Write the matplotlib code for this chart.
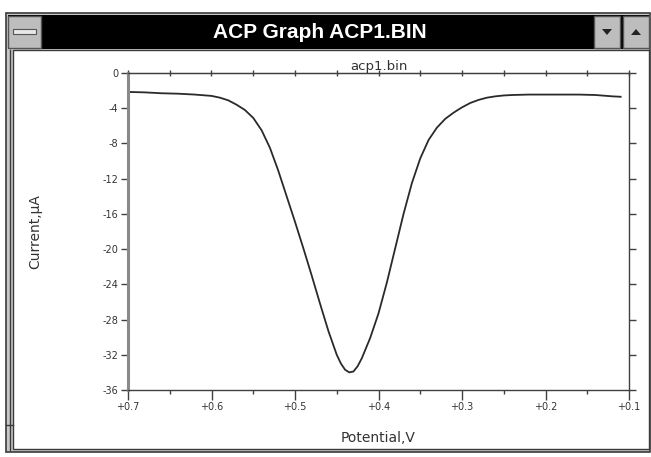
import matplotlib
matplotlib.use("Agg")
import matplotlib.pyplot as plt
from matplotlib.patches import Rectangle, Polygon
from matplotlib.ticker import MultipleLocator, NullFormatter

window_title = "ACP Graph ACP1.BIN"
plot_title = "acp1.bin"
x_label = "Potential,V"
y_label = "Current,\u00b5A"

potential = [0.70, 0.68, 0.66, 0.64, 0.62, 0.60, 0.59, 0.58, 0.57, 0.56,
             0.55, 0.54, 0.53, 0.52, 0.51, 0.50, 0.49, 0.48, 0.47, 0.46,
             0.45, 0.445, 0.44, 0.435, 0.43, 0.425, 0.42, 0.41, 0.40, 0.39,
             0.38, 0.37, 0.36, 0.35, 0.34, 0.33, 0.32, 0.31, 0.30, 0.29,
             0.28, 0.27, 0.26, 0.25, 0.24, 0.22, 0.20, 0.18, 0.16, 0.14,
             0.12, 0.11]
current = [-2.15, -2.2, -2.3, -2.35, -2.45, -2.6, -2.8, -3.1, -3.6, -4.2,
           -5.1, -6.5, -8.5, -11.1, -14.0, -16.9, -19.9, -23.0, -26.2, -29.3,
           -32.0, -33.0, -33.7, -34.0, -33.9, -33.3, -32.4, -30.1, -27.3, -23.8,
           -19.9, -16.0, -12.5, -9.7, -7.6, -6.2, -5.2, -4.5, -3.9, -3.4,
           -3.05, -2.8, -2.65, -2.55, -2.5, -2.45, -2.45, -2.45, -2.45, -2.5,
           -2.65, -2.7]

x_ticks = [0.7, 0.6, 0.5, 0.4, 0.3, 0.2, 0.1]
x_tick_labels = ["+0.7", "+0.6", "+0.5", "+0.4", "+0.3", "+0.2", "+0.1"]
y_ticks = [0, -4, -8, -12, -16, -20, -24, -28, -32, -36]

W, H = 651, 457
fig = plt.figure(figsize=(W / 100, H / 100), dpi=100)
fig.patch.set_facecolor("white")

# window chrome layer in pixel coordinates
bg = fig.add_axes([0, 0, 1, 1])
bg.set_xlim(0, W)
bg.set_ylim(H, 0)
bg.axis("off")

frame_col = "#3a3a3a"
bg.add_patch(Rectangle((6, 13), 644, 439, facecolor="#c8c8c8", edgecolor=frame_col, lw=1.2))
bg.add_patch(Rectangle((13, 50), 636, 399, facecolor="white", edgecolor=frame_col, lw=1.0))
bg.add_patch(Rectangle((8, 15), 641, 34, facecolor="black", edgecolor="black", lw=0))
bg.add_patch(Rectangle((8, 16), 33, 32, facecolor="#bdbdbd", edgecolor="#555555", lw=1))
bg.add_patch(Rectangle((13, 29), 23, 5, facecolor="#e8e8e8", edgecolor="#555555", lw=0.8))
bg.add_patch(Rectangle((594, 16), 26, 32, facecolor="#bdbdbd", edgecolor="#555555", lw=1))
bg.add_patch(Rectangle((623, 16), 26, 32, facecolor="#bdbdbd", edgecolor="#555555", lw=1))
bg.add_patch(Polygon([[602, 29], [612, 29], [607, 35]], closed=True, facecolor="#222222", edgecolor="none"))
bg.add_patch(Polygon([[631, 35], [641, 35], [636, 29]], closed=True, facecolor="#222222", edgecolor="none"))
bg.plot([9.5, 9.5], [50, 450], color=frame_col, lw=1.0)
bg.plot([6, 13], [425, 425], color=frame_col, lw=1.0)

bg.text(320, 32, window_title, color="white", fontsize=15, fontweight="bold",
        family="Liberation Sans", ha="center", va="center")

# chart axes
ax = fig.add_axes([128 / W, 1 - 390 / H, (629 - 128) / W, (390 - 73) / H])
ax.set_facecolor("white")
ax.plot(potential, current, color="#2a2a2a", lw=1.3)
ax.set_xlim(0.7, 0.1)
ax.set_ylim(-36, 0)

ax.set_xticks(x_ticks)
ax.set_xticklabels(x_tick_labels)
ax.xaxis.set_minor_locator(MultipleLocator(0.05))
ax.set_yticks(y_ticks)
ax.set_yticklabels([str(v) for v in y_ticks])

for side in ["top", "bottom", "right"]:
    ax.spines[side].set_color("#404040")
    ax.spines[side].set_linewidth(1.0)
ax.spines["left"].set_color("#8a8a8a")
ax.spines["left"].set_linewidth(2.2)

ax.tick_params(axis="x", which="major", direction="out", length=7, width=1,
               color="#404040", labelsize=7, labelcolor="#333333", pad=2,
               top=False)
ax.tick_params(axis="x", which="minor", direction="out", length=3, width=1,
               color="#404040", top=False)
ax.tick_params(axis="y", which="major", direction="out", length=5, width=1,
               color="#404040", labelsize=7, labelcolor="#333333", pad=2,
               right=True, labelright=False)

top = ax.secondary_xaxis("top")
top.xaxis.set_major_locator(MultipleLocator(0.05))
top.xaxis.set_major_formatter(NullFormatter())
top.tick_params(direction="inout", length=4, width=1, color="#404040")
top.spines["top"].set_color("#404040")

ax.set_title(plot_title, fontsize=9.5, color="#333333", pad=1)

fig.text(35 / W, 1 - 232 / H, y_label, rotation=90, fontsize=10,
         color="#333333", ha="center", va="center")
fig.text(378 / W, 1 - 438 / H, x_label, fontsize=10, color="#333333",
         ha="center", va="center")

fig.savefig("out.png", dpi=100, facecolor="white")
